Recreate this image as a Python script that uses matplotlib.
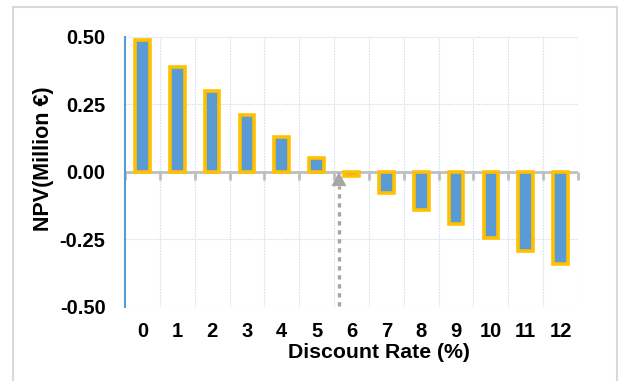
import matplotlib
matplotlib.use("Agg")
import matplotlib.pyplot as plt
from matplotlib.patches import Rectangle, Polygon
from matplotlib.lines import TICKDOWN

plt.rcParams['font.family'] = ['Liberation Sans', 'DejaVu Sans']

rates = [0, 1, 2, 3, 4, 5, 6, 7, 8, 9, 10, 11, 12]
npv = [0.49, 0.39, 0.30, 0.21, 0.13, 0.05, -0.015, -0.08, -0.14, -0.195, -0.245, -0.295, -0.34]
irr_position = 5.64
y_ticks = [-0.50, -0.25, 0.00, 0.25, 0.50]

W, H = 620, 381
fig = plt.figure(figsize=(W / 100, H / 100), dpi=100)
fig.patch.set_facecolor('white')

# light grey frame around the chart area
fig.patches.append(Rectangle((13 / W, -0.01), (617 - 13) / W, 1 - 7 / H + 0.01,
                             transform=fig.transFigure, fill=False,
                             edgecolor='#d9d9d9', linewidth=1.5, zorder=0))

ax = fig.add_axes([125 / W, 1 - 306.7 / H, (578 - 125) / W, (306.7 - 37) / H])
x = list(range(len(rates)))

ax.set_xlim(-0.5, len(rates) - 0.5)
ax.set_ylim(-0.5, 0.5)

# grid: vertical lines at category boundaries, horizontal at y ticks
grid_kw = dict(color='#d3e1f0', linewidth=0.8, linestyle=(0, (1.5, 1)), zorder=0)
for b in range(len(rates)):
    ax.axvline(b + 0.5, **grid_kw)
for yv in y_ticks:
    if yv != 0:
        ax.axhline(yv, **grid_kw)

ax.bar(x, npv, width=0.42, color='#5b9bd5', edgecolor='#ffc000',
       linewidth=2.6, zorder=3)

# zero line with downward tick marks at category boundaries
ax.axhline(0, color='#bfbfbf', linewidth=2, zorder=2)
bounds = [b - 0.5 for b in range(len(rates) + 1)]
ax.plot(bounds, [0] * len(bounds), linestyle='none', marker=TICKDOWN,
        markersize=6, markeredgewidth=2, color='#bfbfbf', zorder=2,
        clip_on=False)

# dotted arrow marking where NPV crosses zero
ax.plot([irr_position, irr_position], [-0.497, -0.052], color='#a6a6a6',
        linewidth=2.4, linestyle=(0, (1.3, 1.4)), zorder=4)
ax.add_patch(Polygon([(irr_position, 0.0), (irr_position - 0.215, -0.053),
                      (irr_position + 0.215, -0.053)], closed=True,
                     facecolor='#a6a6a6', edgecolor='none', zorder=4))

for s in ['top', 'right', 'bottom']:
    ax.spines[s].set_visible(False)
ax.spines['left'].set_color('#5b9bd5')
ax.spines['left'].set_linewidth(1.5)

ax.set_xticks(x)
ax.set_xticklabels([str(r) for r in rates], fontsize=14.5, fontweight='bold')
ax.set_yticks(y_ticks)
ax.set_yticklabels([f'{v:.2f}' for v in y_ticks], fontsize=14.5, fontweight='bold')
ax.tick_params(axis='x', length=0, pad=11)
ax.tick_params(axis='y', length=0, pad=14)

fig.text(44 / W, 1 - 159 / H, 'NPV(Million €)', rotation=90, ha='center',
         va='center', fontsize=15.5, fontweight='bold')
fig.text(379 / W, 1 - 352 / H, 'Discount Rate (%)', ha='center', va='center',
         fontsize=15.3, fontweight='bold')

fig.savefig('out.png', dpi=100)
